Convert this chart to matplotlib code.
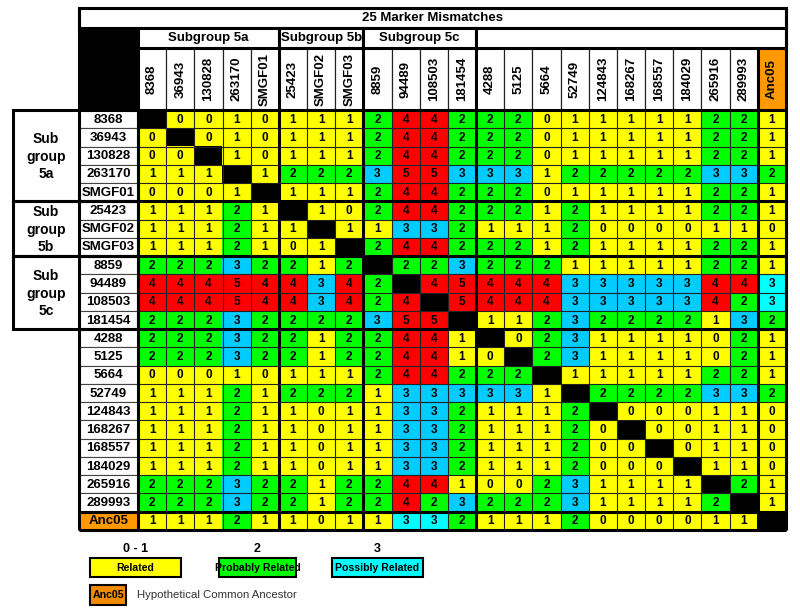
import numpy as np
import matplotlib
matplotlib.use('Agg')
import matplotlib.pyplot as plt
from matplotlib.patches import Rectangle

plt.rcParams['font.family'] = ['Liberation Sans', 'DejaVu Sans']

# samples (rows and columns share the same order), Anc05 last
samples = ['8368', '36943', '130828', '263170', 'SMGF01',
           '25423', 'SMGF02', 'SMGF03',
           '8859', '94489', '108503', '181454',
           '4288', '5125', '5664', '52749', '124843', '168267', '168557',
           '184029', '265916', '289993', 'Anc05']
group_titles = ['Subgroup 5a', 'Subgroup 5b', 'Subgroup 5c', '']
group_labels = ['Sub\ngroup\n5a', 'Sub\ngroup\n5b', 'Sub\ngroup\n5c', '']
group_sizes = [5, 3, 4, 10]

# marker mismatches, -1 = diagonal
mismatches = [
    [-1, 0, 0, 1, 0, 1, 1, 1, 2, 4, 4, 2, 2, 2, 0, 1, 1, 1, 1, 1, 2, 2, 1],
    [0, -1, 0, 1, 0, 1, 1, 1, 2, 4, 4, 2, 2, 2, 0, 1, 1, 1, 1, 1, 2, 2, 1],
    [0, 0, -1, 1, 0, 1, 1, 1, 2, 4, 4, 2, 2, 2, 0, 1, 1, 1, 1, 1, 2, 2, 1],
    [1, 1, 1, -1, 1, 2, 2, 2, 3, 5, 5, 3, 3, 3, 1, 2, 2, 2, 2, 2, 3, 3, 2],
    [0, 0, 0, 1, -1, 1, 1, 1, 2, 4, 4, 2, 2, 2, 0, 1, 1, 1, 1, 1, 2, 2, 1],
    [1, 1, 1, 2, 1, -1, 1, 0, 2, 4, 4, 2, 2, 2, 1, 2, 1, 1, 1, 1, 2, 2, 1],
    [1, 1, 1, 2, 1, 1, -1, 1, 1, 3, 3, 2, 1, 1, 1, 2, 0, 0, 0, 0, 1, 1, 0],
    [1, 1, 1, 2, 1, 0, 1, -1, 2, 4, 4, 2, 2, 2, 1, 2, 1, 1, 1, 1, 2, 2, 1],
    [2, 2, 2, 3, 2, 2, 1, 2, -1, 2, 2, 3, 2, 2, 2, 1, 1, 1, 1, 1, 2, 2, 1],
    [4, 4, 4, 5, 4, 4, 3, 4, 2, -1, 4, 5, 4, 4, 4, 3, 3, 3, 3, 3, 4, 4, 3],
    [4, 4, 4, 5, 4, 4, 3, 4, 2, 4, -1, 5, 4, 4, 4, 3, 3, 3, 3, 3, 4, 2, 3],
    [2, 2, 2, 3, 2, 2, 2, 2, 3, 5, 5, -1, 1, 1, 2, 3, 2, 2, 2, 2, 1, 3, 2],
    [2, 2, 2, 3, 2, 2, 1, 2, 2, 4, 4, 1, -1, 0, 2, 3, 1, 1, 1, 1, 0, 2, 1],
    [2, 2, 2, 3, 2, 2, 1, 2, 2, 4, 4, 1, 0, -1, 2, 3, 1, 1, 1, 1, 0, 2, 1],
    [0, 0, 0, 1, 0, 1, 1, 1, 2, 4, 4, 2, 2, 2, -1, 1, 1, 1, 1, 1, 2, 2, 1],
    [1, 1, 1, 2, 1, 2, 2, 2, 1, 3, 3, 3, 3, 3, 1, -1, 2, 2, 2, 2, 3, 3, 2],
    [1, 1, 1, 2, 1, 1, 0, 1, 1, 3, 3, 2, 1, 1, 1, 2, -1, 0, 0, 0, 1, 1, 0],
    [1, 1, 1, 2, 1, 1, 0, 1, 1, 3, 3, 2, 1, 1, 1, 2, 0, -1, 0, 0, 1, 1, 0],
    [1, 1, 1, 2, 1, 1, 0, 1, 1, 3, 3, 2, 1, 1, 1, 2, 0, 0, -1, 0, 1, 1, 0],
    [1, 1, 1, 2, 1, 1, 0, 1, 1, 3, 3, 2, 1, 1, 1, 2, 0, 0, 0, -1, 1, 1, 0],
    [2, 2, 2, 3, 2, 2, 1, 2, 2, 4, 4, 1, 0, 0, 2, 3, 1, 1, 1, 1, -1, 2, 1],
    [2, 2, 2, 3, 2, 2, 1, 2, 2, 4, 2, 3, 2, 2, 2, 3, 1, 1, 1, 1, 2, -1, 1],
    [1, 1, 1, 2, 1, 1, 0, 1, 1, 3, 3, 2, 1, 1, 1, 2, 0, 0, 0, 0, 1, 1, -1],
]

legend_ranges = ['0 - 1', '2', '3']
legend_names = ['Related', 'Probably Related', 'Possibly Related']
legend_colors = ['#ffff00', '#00ff00', '#00ffff']

YELLOW, GREEN, BLUE, RED, CYAN = '#ffff00', '#00ff00', '#00ccff', '#ff0000', '#00ffff'
ORANGE = '#ff9900'

def cell_color(v, anc):
    if v < 0:
        return '#000000'
    if v <= 1:
        return YELLOW
    if v == 2:
        return GREEN
    if v == 3:
        return CYAN if anc else BLUE
    return RED

M = np.array(mismatches)
n = len(samples)
fig = plt.figure(figsize=(8, 6.14), dpi=100)
ax = fig.add_axes([0, 0, 1, 1])
ax.set_xlim(0, 800)
ax.set_ylim(614, 0)
ax.axis('off')

x0, x1, y0, y1 = 138, 786, 110, 530
xs = np.linspace(x0, x1, n + 1)
ys = np.linspace(y0, y1, n + 1)
bounds = np.concatenate([[0], np.cumsum(group_sizes), [n]])
thin, thick = 0.8, 2.2

# cells
rgb = np.array([[matplotlib.colors.to_rgb(cell_color(M[i, j], i == n - 1 or j == n - 1))
                 for j in range(n)] for i in range(n)])
ax.imshow(rgb, extent=(x0, x1, y1, y0), interpolation='nearest', aspect='auto', zorder=1)
for i in range(n):
    for j in range(n):
        if M[i, j] >= 0:
            ax.text((xs[j] + xs[j + 1]) / 2, (ys[i] + ys[i + 1]) / 2 + 0.5, str(M[i, j]),
                    ha='center', va='center', fontsize=8.5, fontweight='bold', zorder=3)

# header boxes
ax.add_patch(Rectangle((79, 8), x1 - 79, 20, fc='white', ec='black', lw=thick, zorder=2))
ax.text((79 + x1) / 2, 18, '25 Marker Mismatches', ha='center', va='center',
        fontsize=9.5, fontweight='bold', zorder=3)
ax.add_patch(Rectangle((79, 28), x0 - 79, 80, fc='black', ec='black', lw=thin, zorder=2))
for g in range(len(group_sizes)):
    a = xs[bounds[g]]
    b = xs[bounds[g + 1]] if group_titles[g] else x1
    ax.add_patch(Rectangle((a, 28), b - a, 20, fc='white', ec='black', lw=thick, zorder=4))
    ax.text((a + b) / 2, 38, group_titles[g], ha='center', va='center',
            fontsize=9.5, fontweight='bold', zorder=5)

# column headers
for j, name in enumerate(samples):
    fc = ORANGE if name == 'Anc05' else 'white'
    ax.add_patch(Rectangle((xs[j], 48), xs[j + 1] - xs[j], y0 - 48, fc=fc, ec='#333333',
                           lw=thin, zorder=2))
    ax.text((xs[j] + xs[j + 1]) / 2, 79, name, rotation=90, ha='center', va='center',
            fontsize=9.5, fontweight='bold', zorder=3)

# row headers
for i, name in enumerate(samples):
    fc = ORANGE if name == 'Anc05' else 'white'
    ax.add_patch(Rectangle((79, ys[i]), x0 - 79, ys[i + 1] - ys[i], fc=fc, ec='#444444',
                           lw=thin, zorder=2))
    ax.text((79 + x0) / 2, (ys[i] + ys[i + 1]) / 2 + 0.5, name, ha='center', va='center',
            fontsize=9.5, fontweight='bold', zorder=3)

# grid lines
ax.hlines(ys, x0, x1, colors='#222222', lw=thin, zorder=2)
ax.vlines(xs, 48, y1, colors='#222222', lw=thin, zorder=2)
for b in bounds:
    ax.hlines(ys[b], 79, x1, colors='black', lw=thick, zorder=4)
    ax.vlines(xs[b], 8 if b == n else 48, y1, colors='black', lw=thick, zorder=4)
ax.vlines(79, 8, y1, colors='black', lw=thick, zorder=4)

# subgroup row blocks on the left
for g in range(len(group_sizes)):
    if not group_labels[g]:
        continue
    a, b = ys[bounds[g]], ys[bounds[g + 1]]
    ax.add_patch(Rectangle((13, a), x0 - 13, b - a, fc='none', ec='black', lw=thick, zorder=4))
    ax.text(46, (a + b) / 2 + 1, group_labels[g], ha='center', va='center', fontsize=10,
            fontweight='bold', linespacing=1.3, zorder=3)

# legend
lx = [90, 219, 332]
lw_ = [91, 77, 91]
for k in range(len(legend_names)):
    ax.text(lx[k] + lw_[k] / 2, 549, legend_ranges[k], ha='center', va='center',
            fontsize=9, fontweight='bold')
    ax.add_patch(Rectangle((lx[k], 558), lw_[k], 19, fc=legend_colors[k], ec='black', lw=1.5))
    ax.text(lx[k] + lw_[k] / 2, 568, legend_names[k], ha='center', va='center',
            fontsize=7.6, fontweight='bold')
ax.add_patch(Rectangle((90, 585), 36, 20, fc='#f08a00', ec='black', lw=1.5))
ax.text(108, 595.5, 'Anc05', ha='center', va='center', fontsize=7.6, fontweight='bold')
ax.text(137, 595.5, 'Hypothetical Common Ancestor', ha='left', va='center',
        fontsize=8.2, color='#333333')

fig.savefig('out.png', dpi=100)
